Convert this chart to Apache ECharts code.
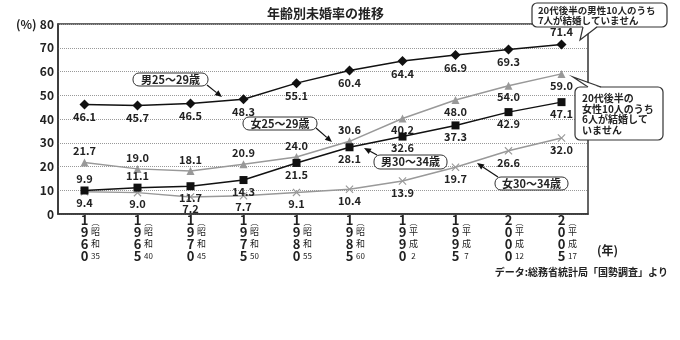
<!DOCTYPE html>
<html><head><meta charset="utf-8">
<script src="https://cdn.jsdelivr.net/npm/echarts@6/dist/echarts.min.js"></script>
<style>html,body{margin:0;padding:0;background:#fff}#c{width:680px;height:340px}</style>
</head><body><div id="c"></div>
<script>
var years = ['1960','1965','1970','1975','1980','1985','1990','1995','2000','2005'];
var eraNames = ['昭和','昭和','昭和','昭和','昭和','昭和','平成','平成','平成','平成'];
var eraYears = ['35','40','45','50','55','60','2','7','12','17'];
var yTicks = [0,10,20,30,40,50,60,70,80];
var male2529 = [46.1,45.7,46.5,48.3,55.1,60.4,64.4,66.9,69.3,71.4];
var female2529 = [21.7,19.0,18.1,20.9,24.0,30.6,40.2,48.0,54.0,59.0];
var male3034 = [9.9,11.1,11.7,14.3,21.5,28.1,32.6,37.3,42.9,47.1];
var female3034 = [9.4,9.0,7.2,7.7,9.1,10.4,13.9,19.7,26.6,32.0];

var FF = '"Noto Sans CJK JP", "Liberation Sans", sans-serif';
var chart = echarts.init(document.getElementById('c'), null, {renderer:'canvas'});

function withLabels(vals, tops){
  return vals.map(function(v,i){
    return {value:v, label:{position: tops.indexOf(i)>=0 ? 'top' : 'bottom'}};
  });
}
var lbl = {show:true, fontSize:11, fontWeight:'bold', color:'#222', fontFamily:FF, distance:2,
  formatter:function(p){return p.value.toFixed(1);}};

var cross = 'path://M1,0 L5,4 L9,0 L10,1 L6,5 L10,9 L9,10 L5,6 L1,10 L0,9 L4,5 L0,1 Z';

function arrow(x1,y1,x2,y2){
  var dx=x2-x1, dy=y2-y1, L=Math.sqrt(dx*dx+dy*dy), ux=dx/L, uy=dy/L;
  var hl=7, hw=3;
  var bx=x2-ux*hl, by=y2-uy*hl;
  return [
    {type:'line', shape:{x1:x1,y1:y1,x2:bx,y2:by}, style:{stroke:'#111', lineWidth:1.2}, z:20},
    {type:'polygon', shape:{points:[[x2,y2],[bx-uy*hw,by+ux*hw],[bx+uy*hw,by-ux*hw]]}, style:{fill:'#111'}, z:20}
  ];
}
function tag(x,y,w,h,text){
  return [
    {type:'rect', shape:{x:x,y:y,width:w,height:h,r:6}, style:{fill:'#fff', stroke:'#333', lineWidth:1}, z:21},
    {type:'text', x:x+w/2, y:y+h/2, style:{text:text, fill:'#222', font:'bold 11px '+FF, textAlign:'center', textVerticalAlign:'middle'}, z:22}
  ];
}
var graphics = [];
graphics.push({type:'text', x:16, y:24, style:{text:'(%)', fill:'#222', font:'bold 12px '+FF, textVerticalAlign:'middle'}});
graphics.push({type:'text', x:597, y:250, style:{text:'(年)', fill:'#222', font:'bold 12px '+FF, textVerticalAlign:'middle'}});
graphics.push({type:'text', x:668, y:272, style:{text:'データ:総務省統計局「国勢調査」より', fill:'#222', font:'bold 10px '+FF, textAlign:'right', textVerticalAlign:'middle'}});
graphics = graphics.concat(tag(133,73,75,13,'男25〜29歳'), arrow(207,85,222,97));
graphics = graphics.concat(tag(243,117,74,13,'女25〜29歳'), arrow(316,128,332,142));
graphics = graphics.concat(tag(374,155,73,14,'男30〜34歳'), arrow(377,155,364,148));
graphics = graphics.concat(tag(495,177,73,13,'女30〜34歳'), arrow(498,177,477,163));
// bubble 1
graphics.push({type:'rect', shape:{x:532,y:3,width:135,height:24,r:5}, style:{fill:'#fff', stroke:'#333', lineWidth:1.2}, z:21});
graphics.push({type:'polygon', shape:{points:[[583,26],[580,40],[597,26]]}, style:{fill:'#fff'}, z:22});
graphics.push({type:'polyline', shape:{points:[[583,27],[580,40],[597,27]]}, style:{stroke:'#333', lineWidth:1.2, fill:null}, z:22});
graphics.push({type:'text', x:538, y:15.5, style:{text:'20代後半の男性10人のうち\n7人が結婚していません', fill:'#222', font:'bold 9.5px '+FF, lineHeight:10.5, textVerticalAlign:'middle'}, z:23});
// bubble 2
graphics.push({type:'rect', shape:{x:575,y:87,width:88,height:53,r:5}, style:{fill:'#fff', stroke:'#333', lineWidth:1.2}, z:21});
graphics.push({type:'polygon', shape:{points:[[588,88],[573,77],[601,88]]}, style:{fill:'#fff'}, z:22});
graphics.push({type:'polyline', shape:{points:[[588,87],[573,77],[601,87]]}, style:{stroke:'#333', lineWidth:1.2, fill:null}, z:22});
graphics.push({type:'text', x:582, y:114, style:{text:'20代後半の\n女性10人のうち\n6人が結婚して\nいません', fill:'#222', font:'bold 10px '+FF, lineHeight:10.5, textVerticalAlign:'middle'}, z:23});

var option = {
  animation:false,
  title:{text:'年齢別未婚率の推移', left:262, top:2, textStyle:{fontSize:13, fontWeight:'bold', color:'#222', fontFamily:FF}},
  grid:{left:58, right:92, top:24, bottom:126, show:true, borderColor:'#333', borderWidth:1.5, backgroundColor:'transparent'},
  xAxis:{type:'category', data:years, boundaryGap:true,
    axisLine:{lineStyle:{color:'#333', width:1.5}},
    axisTick:{inside:true, length:5, lineStyle:{color:'#333', width:1}},
    axisLabel:{interval:0, margin:0, fontFamily:FF, color:'#222',
      formatter:function(v, i){
        var d=v.split('');
        return '{sp|}{y|'+d[0]+'}{b|︵}\n{sp|}{y|'+d[1]+'}{e|'+eraNames[i][0]+'}\n{sp|}{y|'+d[2]+'}{e|'+eraNames[i][1]+'}\n{sp|}{y|'+d[3]+'}{n|'+eraYears[i]+'}';
      },
      rich:{
        sp:{width:12},
        y:{fontSize:13, fontWeight:'bold', width:10, align:'center', lineHeight:11, color:'#222', fontFamily:FF},
        e:{fontSize:9, width:12, align:'left', lineHeight:11, color:'#222', fontFamily:FF},
        n:{fontSize:8, width:12, align:'left', lineHeight:11, color:'#222', fontFamily:FF, textDecoration:'underline'},
        b:{fontSize:8, width:12, align:'left', lineHeight:11, verticalAlign:'bottom', color:'#222', fontFamily:FF}
      }
    },
    splitLine:{show:false}
  },
  yAxis:{type:'value', min:yTicks[0], max:yTicks[yTicks.length-1], interval:10,
    axisLine:{show:true, lineStyle:{color:'#333', width:1.5}},
    axisTick:{show:false},
    axisLabel:{margin:4, fontSize:12, fontWeight:'bold', color:'#222', fontFamily:FF},
    splitLine:{show:true, lineStyle:{color:'#999', type:'dotted', width:1}}
  },
  series:[
    {name:'男25〜29歳', type:'line', data:withLabels(male2529,[9]), symbol:'diamond', symbolSize:10,
      itemStyle:{color:'#111'}, lineStyle:{color:'#111', width:1.5}, label:lbl, z:5},
    {name:'女25〜29歳', type:'line', data:withLabels(female2529,[0,1,2,3,4,5]), symbol:'triangle', symbolSize:8,
      itemStyle:{color:'#999'}, lineStyle:{color:'#999', width:1.5}, label:lbl, z:3},
    {name:'男30〜34歳', type:'line', data:withLabels(male3034,[0,1]), symbol:'rect', symbolSize:8,
      itemStyle:{color:'#111'}, lineStyle:{color:'#111', width:1.5}, label:lbl, z:5},
    {name:'女30〜34歳', type:'line', data:withLabels(female3034,[]), symbol:cross, symbolSize:8,
      itemStyle:{color:'#999'}, lineStyle:{color:'#999', width:1.5}, label:lbl, z:3}
  ],
  graphic:graphics
};
chart.setOption(option);
</script></body></html>
